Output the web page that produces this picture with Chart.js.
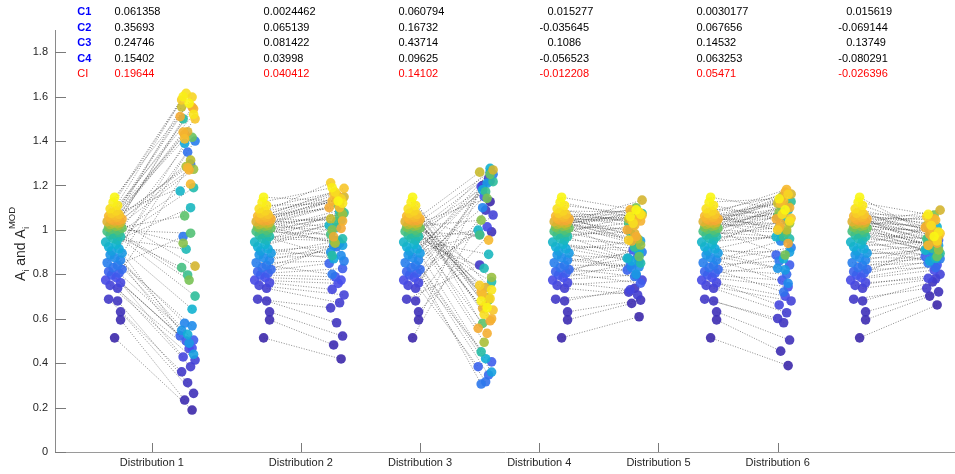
<!DOCTYPE html>
<html>
<head>
<meta charset="utf-8">
<script src="https://cdn.jsdelivr.net/npm/chart.js@4/dist/chart.umd.min.js"></script>
<style>
  html, body { margin: 0; padding: 0; background: #fff; overflow: hidden; }
</style>
</head>
<body>
<canvas id="chart" width="955" height="474"></canvas>
<script>
// category axis
const distributionLabels = ["Distribution 1", "Distribution 2", "Distribution 3", "Distribution 4", "Distribution 5", "Distribution 6"];
const distributionTicks = [1, 2, 2.8, 3.6, 4.4, 5.2];
const yTickValues = [0, 0.2, 0.4, 0.6, 0.8, 1, 1.2, 1.4, 1.6, 1.8];

// table above the plot
const rowLabels = ["C1", "C2", "C3", "C4", "CI"];
const c1Values = ["0.061358", "0.0024462", "0.060794", "0.015277", "0.0030177", "0.015619"];
const c2Values = ["0.35693", "0.065139", "0.16732", "-0.035645", "0.067656", "-0.069144"];
const c3Values = ["0.24746", "0.081422", "0.43714", "0.1086", "0.14532", "0.13749"];
const c4Values = ["0.15402", "0.03998", "0.09625", "-0.056523", "0.063253", "-0.080291"];
const ciValues = ["0.19644", "0.040412", "0.14102", "-0.012208", "0.05471", "-0.026396"];

// A_i, sorted (same left column in every group)
const aValues = [
  0.514, 0.595, 0.631, 0.680, 0.688, 0.737, 0.750,
  0.762, 0.774, 0.785, 0.797, 0.805, 0.812, 0.822, 0.830, 0.841, 0.852, 0.864,
  0.875, 0.888, 0.895, 0.905, 0.915, 0.924,
  0.935, 0.945, 0.954, 0.962, 0.970, 0.977,
  0.983, 0.988, 0.993, 0.999, 1.003, 1.008,
  1.012, 1.016, 1.020, 1.024, 1.028, 1.031,
  1.034, 1.037, 1.040, 1.043, 1.046, 1.049, 1.052, 1.055, 1.058,
  1.062, 1.066, 1.070, 1.075, 1.085, 1.095, 1.110, 1.125, 1.147
];

// A_i^MOD for each distribution, same order as aValues
const modDist1 = [
  0.189, 0.234, 0.264, 0.312, 0.361, 0.384, 0.414,
  0.428, 0.465, 0.468, 0.500, 0.504, 0.523, 1.296, 1.350, 0.970, 1.400, 0.580,
  0.568, 0.548, 0.490, 0.440, 1.390, 0.530,
  0.643, 1.175, 1.100, 0.913, 1.190, 1.500,
  0.702, 0.797, 0.830, 0.985, 1.063, 1.417,
  0.774, 0.940, 1.273, 1.285, 1.314, 1.553,
  0.837, 1.442, 1.430, 1.553, 1.510, 1.270, 1.545, 1.440, 1.280,
  1.206, 1.410, 1.500, 1.585, 1.598, 1.615, 1.520, 1.600, 1.570
];
const modDist2 = [
  0.419, 0.482, 0.522, 0.582, 0.649, 0.672, 0.707,
  0.732, 0.759, 0.774, 0.789, 0.826, 0.849, 0.939, 0.924, 0.800, 0.860, 0.930,
  0.884, 0.900, 0.950, 0.930, 0.870, 1.010,
  1.044, 1.020, 1.081, 0.951, 0.960, 0.884,
  1.077, 1.037, 0.980, 1.060, 0.950, 1.090,
  1.112, 1.000, 1.070, 0.940, 1.120, 1.050,
  1.149, 1.134, 0.969, 1.007, 1.100, 1.150, 1.040, 1.130, 1.160,
  1.100, 1.164, 1.187, 1.212, 1.140, 1.170, 1.120, 1.190, 1.130
];
const modDist3 = [
  1.127, 1.200, 0.991, 1.089, 0.842, 1.232, 1.067,
  1.194, 1.014, 1.220, 1.150, 0.406, 0.384, 0.347, 0.316, 0.306, 1.250, 1.100,
  1.260, 0.980, 1.210, 0.360, 1.180, 0.420,
  1.277, 0.999, 0.890, 0.827, 0.766, 0.451,
  1.217, 1.172, 0.977, 0.684, 0.579, 1.250,
  1.142, 1.044, 0.786, 0.494, 0.696, 1.260,
  1.270, 0.740, 0.647, 0.591, 0.557, 0.534, 0.600, 0.720, 0.660,
  0.954, 0.707, 0.639, 0.750, 0.690, 0.620, 0.730, 0.680, 0.650
];
const modDist4 = [
  0.609, 0.669, 0.684, 0.737, 0.720, 0.707, 0.774,
  0.730, 0.797, 0.857, 0.910, 0.760, 0.819, 0.880, 0.790, 0.840, 0.900, 0.830,
  0.834, 0.872, 0.800, 0.950, 0.860, 0.920,
  0.900, 0.872, 0.940, 1.020, 0.850, 0.990,
  1.074, 0.924, 1.030, 0.960, 1.080, 0.880,
  1.100, 1.002, 0.932, 1.070, 0.960, 1.050,
  1.134, 0.984, 0.950, 1.060, 1.000, 0.970, 1.040, 1.090, 1.020,
  1.052, 1.045, 1.066, 0.954, 1.080, 1.030, 1.070, 1.060, 1.090
];
const modDist5 = [
  0.389, 0.454, 0.504, 0.582, 0.601, 0.627, 0.680,
  0.662, 0.702, 0.744, 0.774, 0.842, 0.887, 0.800, 0.720, 0.860, 0.920, 0.950,
  0.759, 0.827, 0.820, 0.900, 0.980, 0.870,
  1.089, 0.969, 1.044, 1.100, 0.960, 1.010,
  1.127, 0.969, 1.060, 0.990, 1.140, 1.110,
  0.887, 1.080, 1.030, 1.150, 1.000, 1.120,
  1.161, 1.074, 1.029, 0.939, 1.050, 1.170, 1.100, 1.010, 1.130,
  1.182, 1.120, 1.052, 0.999, 1.160, 1.070, 1.040, 1.140, 1.090
];
const modDist6 = [
  0.662, 0.702, 0.721, 0.766, 0.737, 0.780, 0.800,
  0.782, 0.819, 0.842, 0.860, 0.954, 0.880, 0.830, 0.900, 0.850, 0.870, 0.920,
  0.872, 0.909, 0.890, 0.930, 0.860, 0.950,
  1.014, 0.909, 0.872, 0.940, 0.900, 0.960,
  0.894, 0.917, 0.960, 0.930, 1.000, 0.880,
  1.067, 0.932, 0.910, 0.990, 0.950, 1.020,
  1.089, 0.962, 0.980, 0.940, 1.010, 1.050, 0.970, 0.930, 1.000,
  1.044, 1.030, 0.984, 1.060, 0.950, 1.020, 0.990, 1.070, 0.970
];

// horizontal scatter of the points inside each column (x units)
const leftJitter = [
  0.00, 0.04, 0.04, 0.02, -0.04, 0.02, -0.03, 0.04, -0.06, 0.01,
  -0.02, 0.03, -0.04, 0.05, -0.01, 0.02, -0.05, 0.04, 0.00, -0.03,
  0.05, -0.02, 0.03, -0.04, 0.01, -0.06, 0.02, -0.01, 0.04, -0.03,
  0.00, 0.03, -0.05, 0.02, -0.02, 0.05, -0.04, 0.01, 0.03, -0.03,
  0.02, -0.01, 0.04, -0.05, 0.00, 0.03, -0.02, 0.05, -0.03, 0.01,
  0.02, -0.04, 0.00, 0.03, -0.02, 0.01, -0.03, 0.02, -0.01, 0.00
];
const rightJitter = [
  0.03, -0.02, 0.04, 0.00, -0.04, 0.02, 0.05, -0.03, 0.01, 0.03,
  -0.01, 0.04, -0.05, 0.02, 0.00, -0.03, 0.05, -0.02, 0.03, -0.04,
  0.01, 0.04, -0.02, 0.00, 0.03, -0.05, 0.02, -0.01, 0.04, -0.03,
  0.05, 0.00, -0.04, 0.02, -0.02, 0.03, 0.01, -0.03, 0.04, -0.01,
  0.02, -0.04, 0.05, 0.00, -0.02, 0.03, -0.05, 0.01, 0.04, -0.03,
  0.00, 0.02, -0.02, 0.05, -0.04, 0.03, -0.01, 0.04, -0.03, 0.01
];

const modSeries = [modDist1, modDist2, modDist3, modDist4, modDist5, modDist6];
const tableRows = [c1Values, c2Values, c3Values, c4Values, ciValues];

// parula-like colormap: [position, r, g, b]
const colorStops = [
  [0.00, 60, 40, 170], [0.15, 72, 78, 236], [0.30, 32, 138, 236],
  [0.40, 16, 178, 212], [0.50, 40, 190, 160], [0.60, 110, 195, 90],
  [0.68, 190, 190, 45], [0.76, 244, 168, 52], [0.88, 246, 188, 46],
  [0.95, 248, 222, 32], [1.00, 250, 246, 20]
];
function parula(t) {
  let i = 0;
  while (i < colorStops.length - 2 && t > colorStops[i + 1][0]) i++;
  const a = colorStops[i], b = colorStops[i + 1];
  const f = Math.min(1, Math.max(0, (t - a[0]) / (b[0] - a[0])));
  const c = [1, 2, 3].map((k) => Math.round(a[k] + (b[k] - a[k]) * f));
  return `rgba(${c[0]},${c[1]},${c[2]},0.9)`;
}
const pointColors = aValues.map((v, i) => parula(i / (aValues.length - 1)));

const datasets = [];
modSeries.forEach((mod, g) => {
  const lx = g + 0.75, rx = g + 1.24;
  const left = aValues.map((v, i) => ({ x: lx + leftJitter[i], y: v }));
  const right = mod.map((v, i) => ({ x: rx + rightJitter[i], y: v }));
  const segs = [];
  left.forEach((p, i) => {
    segs.push(p, right[i], { x: right[i].x, y: null });
  });
  datasets.push({
    type: "line",
    data: segs,
    borderColor: "rgba(30,30,30,0.75)",
    borderWidth: 0.7,
    borderDash: [1, 1.6],
    pointRadius: 0,
    spanGaps: false,
    order: 1,
  });
  datasets.push({
    type: "scatter",
    data: left.concat(right),
    pointBackgroundColor: pointColors.concat(pointColors),
    pointBorderWidth: 0,
    pointRadius: 4.8,
    order: 0,
  });
});

const FONT = "Arial, 'Liberation Sans', Helvetica, sans-serif";

const decorations = {
  id: "decorations",
  afterDraw(chart) {
    const { ctx, chartArea, scales } = chart;
    const x = scales.x, y = scales.y;
    ctx.save();
    // inward tick marks
    ctx.strokeStyle = "#7a7a7a";
    ctx.lineWidth = 1;
    ctx.beginPath();
    yTickValues.forEach((v) => {
      const py = Math.round(y.getPixelForValue(v)) + 0.5;
      ctx.moveTo(chartArea.left, py);
      ctx.lineTo(chartArea.left + 11, py);
    });
    distributionTicks.forEach((v) => {
      const px = Math.round(x.getPixelForValue(v)) + 0.5;
      ctx.moveTo(px, chartArea.bottom);
      ctx.lineTo(px, chartArea.bottom - 9);
    });
    ctx.stroke();

    // table text
    const valueX = [0.75, 1.75, 2.655, 3.655, 4.655, 5.66];
    ctx.textBaseline = "middle";
    ctx.textAlign = "left";
    rowLabels.forEach((lab, r) => {
      const py = 12 + r * 15.5;
      const isCI = r === 4;
      ctx.font = (isCI ? "" : "bold ") + "11px " + FONT;
      ctx.fillStyle = isCI ? "#ff0000" : "#0000ff";
      ctx.fillText(lab, x.getPixelForValue(0.5), py);
      ctx.font = "11px " + FONT;
      ctx.fillStyle = isCI ? "#ff0000" : "#000000";
      tableRows[r].forEach((txt, g) => {
        let px = x.getPixelForValue(valueX[g]);
        if (txt.startsWith("-")) px -= 8;
        ctx.fillText(txt, px, py);
      });
    });

    // y axis title: A_i and A_i^MOD
    ctx.translate(21, 244);
    ctx.rotate(-Math.PI / 2);
    ctx.fillStyle = "#262626";
    ctx.textBaseline = "alphabetic";
    const big = "14px " + FONT, small = "9.5px " + FONT;
    const parts = [
      { t: "A", f: big, dy: 0 },
      { t: "i", f: small, dy: 3.5 },
      { t: " and A", f: big, dy: 0 },
      { t: "i", f: small, dy: 3.5, sup: "MOD" },
    ];
    let total = 0;
    parts.forEach((p) => {
      ctx.font = p.f;
      let w = ctx.measureText(p.t).width;
      if (p.sup) w = Math.max(w, ctx.measureText(p.sup).width);
      p.w = w;
      total += w;
    });
    let cx = -total / 2;
    parts.forEach((p) => {
      ctx.font = p.f;
      ctx.fillText(p.t, cx, 4 + p.dy);
      if (p.sup) ctx.fillText(p.sup, cx, -6);
      cx += p.w;
    });
    ctx.restore();
  },
};

new Chart(document.getElementById("chart"), {
  type: "scatter",
  data: { datasets },
  options: {
    responsive: false,
    animation: false,
    devicePixelRatio: 1,
    layout: { autoPadding: false, padding: { top: 30, right: 0, left: 0, bottom: 0 } },
    plugins: { legend: { display: false }, tooltip: { enabled: false } },
    scales: {
      x: {
        type: "linear",
        min: 0.35,
        max: 6.39,
        afterBuildTicks: (s) => { s.ticks = distributionTicks.map((v) => ({ value: v })); },
        afterFit: (s) => { s.height = 22; },
        ticks: {
          autoSkip: false,
          maxRotation: 0,
          padding: 4,
          color: "#262626",
          font: { size: 11, family: FONT },
          callback: (v, i) => distributionLabels[i],
        },
        grid: { display: false, drawTicks: false },
        border: { color: "#9a9a9a", width: 1 },
      },
      y: {
        type: "linear",
        min: 0,
        max: 1.9,
        afterBuildTicks: (s) => { s.ticks = yTickValues.map((v) => ({ value: v })); },
        afterFit: (s) => { s.width = 55; },
        ticks: {
          padding: 7,
          color: "#262626",
          font: { size: 11, family: FONT },
          callback: (v) => String(Number(v.toFixed(1))),
        },
        grid: { display: false, drawTicks: false },
        border: { color: "#8a8a8a", width: 1 },
      },
    },
  },
  plugins: [decorations],
});
</script>
</body>
</html>
